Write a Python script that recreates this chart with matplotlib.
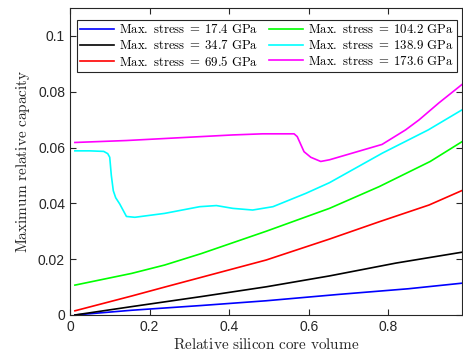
import numpy as np
import matplotlib
matplotlib.use("Agg")
import matplotlib.pyplot as plt

plt.rcParams['mathtext.fontset'] = 'cm'
plt.rcParams['font.family'] = ['Liberation Sans', 'DejaVu Sans']

# Data
x_blue = [0.0125, 0.155, 0.33, 0.493, 0.677, 0.85, 0.985]
y_blue = [0.0, 0.0017, 0.0034, 0.0051, 0.0074, 0.0094, 0.0114]

x_black = [0.0125, 0.155, 0.33, 0.493, 0.652, 0.819, 0.985]
y_black = [0.0, 0.0030, 0.0066, 0.0101, 0.0140, 0.0186, 0.0225]

x_red = [0.0125, 0.155, 0.238, 0.33, 0.493, 0.652, 0.777, 0.902, 0.985]
y_red = [0.0015, 0.0068, 0.0100, 0.0135, 0.0197, 0.0272, 0.0334, 0.0394, 0.0446]

x_green = [0.0125, 0.155, 0.238, 0.33, 0.493, 0.652, 0.777, 0.905, 0.985]
y_green = [0.0107, 0.0149, 0.0179, 0.0220, 0.0300, 0.0382, 0.0460, 0.0550, 0.0621]

x_cyan = [0.0125, 0.05, 0.085, 0.095, 0.10, 0.104, 0.109, 0.115, 0.125, 0.142, 0.163,
          0.238, 0.326, 0.368, 0.409, 0.459, 0.51, 0.593, 0.652, 0.785, 0.9, 0.985]
y_cyan = [0.0588, 0.0588, 0.0586, 0.0578, 0.0565, 0.0500, 0.0445, 0.0420, 0.0398, 0.0353, 0.0350,
          0.0364, 0.0388, 0.0392, 0.0382, 0.0376, 0.0388, 0.0436, 0.0474, 0.0580, 0.0663, 0.0735]

x_mag = [0.0125, 0.142, 0.409, 0.484, 0.563, 0.571, 0.588, 0.605, 0.63, 0.652,
         0.784, 0.843, 0.877, 0.927, 0.985]
y_mag = [0.0618, 0.0625, 0.0645, 0.0649, 0.0649, 0.0639, 0.0585, 0.0565, 0.0550, 0.0556,
         0.0611, 0.0663, 0.0699, 0.0760, 0.0826]

stress = ["17.4", "34.7", "69.5", "104.2", "138.9", "173.6"]

fig = plt.figure(figsize=(4.63, 3.6), dpi=100)
ax = fig.add_axes([0.151, 0.125, 0.847, 0.853])

series = [(x_blue, y_blue, '#0000ff'), (x_black, y_black, '#000000'),
          (x_red, y_red, '#ff0000'), (x_green, y_green, '#00ff00'),
          (x_cyan, y_cyan, '#00ffff'), (x_mag, y_mag, '#ff00ff')]
for (xs, ys, c), s in zip(series, stress):
    ax.plot(xs, ys, color=c, lw=1.2,
            label=r'$\mathrm{Max.\ stress}\;=\;' + s + r'\ \mathrm{GPa}$')

ax.set_xlim(0, 0.985)
ax.set_ylim(0, 0.11)
ax.set_xticks([0, 0.2, 0.4, 0.6, 0.8])
ax.set_xticklabels(['0', '0.2', '0.4', '0.6', '0.8'])
ax.set_yticks([0, 0.02, 0.04, 0.06, 0.08, 0.1])
ax.set_yticklabels(['0', '0.02', '0.04', '0.06', '0.08', '0.1'])
ax.tick_params(direction='in', top=True, right=True, labelsize=10,
               colors='#262626', length=4, width=0.8)
for sp in ax.spines.values():
    sp.set_color('#262626')
    sp.set_linewidth(0.8)

ax.set_xlabel(r'$\mathrm{Relative\ silicon\ core\ volume}$', fontsize=11,
              color='#262626', labelpad=2)
ax.set_ylabel(r'$\mathrm{Maximum\ relative\ capacity}$', fontsize=11,
              color='#262626', labelpad=4)

leg = ax.legend(ncol=2, loc='upper left', bbox_to_anchor=(0.017, 0.96),
                fontsize=9.2, handlelength=2.7, columnspacing=0.8,
                handletextpad=0.4, labelspacing=0.2, borderpad=0.25,
                handleheight=0.6, fancybox=False, framealpha=1,
                edgecolor='#262626', borderaxespad=0)
leg.get_frame().set_linewidth(0.8)

fig.savefig('out.png', dpi=100)
